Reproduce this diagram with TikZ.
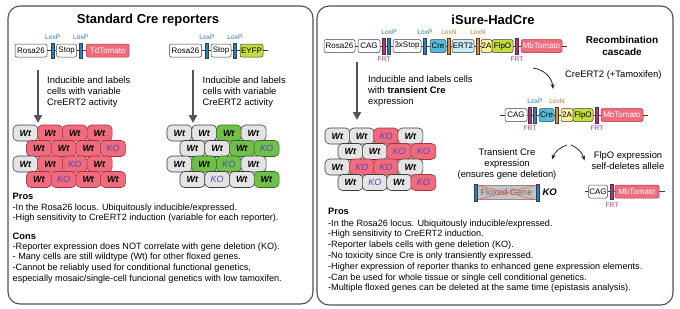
\documentclass[tikz,border=0pt]{standalone}
\usepackage{fontspec}
\setmainfont{Liberation Sans}
\usepackage{tikz}
\usetikzlibrary{arrows.meta,positioning,calc}
\definecolor{framegray}{RGB}{80,80,80}
\definecolor{boxline}{RGB}{60,60,60}
\definecolor{tomred}{RGB}{240,108,124}
\definecolor{tomline}{RGB}{170,50,65}
\definecolor{cellgray}{RGB}{228,228,228}
\definecolor{cellgreen}{RGB}{112,192,72}
\definecolor{greenline}{RGB}{45,110,30}
\definecolor{limeyfp}{RGB}{196,220,62}
\definecolor{crecyan}{RGB}{82,190,220}
\definecolor{ertcyan}{RGB}{204,236,242}
\definecolor{twoayel}{RGB}{250,240,150}
\definecolor{loxpblue}{RGB}{30,132,200}
\definecolor{loxnorange}{RGB}{228,140,50}
\definecolor{frtmag}{RGB}{200,40,130}
\definecolor{loxptext}{RGB}{40,112,180}
\definecolor{loxntext}{RGB}{206,120,40}
\definecolor{frttext}{RGB}{176,50,120}
\definecolor{kopurple}{RGB}{80,70,190}
\definecolor{arrowgray}{RGB}{85,85,85}
\definecolor{floxgray}{RGB}{196,196,196}

\newcommand{\wt}{\textbf{\textit{Wt}}}
\newcommand{\ko}{\textit{\textcolor{kopurple}{KO}}}

\begin{document}
\begin{tikzpicture}[
        x=1pt, y=1pt,
        pnl/.style={rectangle, draw=framegray, line width=1.1pt, rounded corners=12pt},
        ttl/.style={font=\fontsize{13}{15}\selectfont\bfseries, inner sep=0pt},
        gbox/.style={rectangle, draw=boxline, line width=0.5pt, rounded corners=2pt,
                     minimum height=13pt, inner sep=0pt, fill=white,
                     font=\fontsize{8}{9}\selectfont},
        gbar/.style={rectangle, draw=boxline, line width=0.4pt, minimum width=3.2pt,
                     minimum height=15.5pt, inner sep=0pt},
        loxpbar/.style={gbar, fill=loxpblue},
        loxnbar/.style={gbar, fill=loxnorange},
        frtbar/.style={gbar, fill=frtmag},
        sitelbl/.style={font=\fontsize{6.6}{7}\selectfont, inner sep=0pt},
        backbone/.style={draw=boxline, line width=0.5pt},
        cellbox/.style={rectangle, draw=boxline, line width=0.6pt, rounded corners=4.5pt,
                        minimum width=25pt, minimum height=16pt, inner sep=0pt,
                        font=\fontsize{9}{10}\selectfont},
        cellgy/.style={cellbox, fill=cellgray},
        cellred/.style={cellbox, fill=tomred, draw=tomline},
        cellgn/.style={cellbox, fill=cellgreen, draw=greenline},
        notetxt/.style={font=\fontsize{9.4}{10.8}\selectfont, align=left, inner sep=0pt},
        listtxt/.style={font=\fontsize{9.1}{10.8}\selectfont, align=left, inner sep=0pt},
        listhd/.style={font=\fontsize{9.3}{10.8}\selectfont\bfseries, inner sep=0pt},
        bigarrow/.style={-{Triangle[length=8pt,width=8pt]}, line width=2.6pt, arrowgray},
        curvy/.style={-{Stealth[length=5pt,width=4pt]}, line width=0.8pt, black!85}
    ]
    \useasboundingbox (0,0) rectangle (680,-308);

    %% ── Standard Cre reporters panel ────────────────────────────────────────
    \node[pnl, minimum width=305pt, minimum height=298pt] (leftpanel) at (160.5,-155) {};
    \node[ttl] (stdtitle) at (148,-20) {Standard Cre reporters};

    % TdTomato reporter allele
    \node[gbox, minimum width=32pt] (rosaA) at (31,-50.5) {Rosa26};
    \node[loxpbar] (lpA1) at (52.7,-50.5) {};
    \node[gbox, minimum width=20pt] (stopA) at (66.7,-50.5) {Stop};
    \node[loxpbar] (lpA2) at (80.7,-50.5) {};
    \node[gbox, minimum width=43pt, fill=tomred, draw=tomline, text=white] (tdtom) at (107.7,-50.5) {TdTomato};
    \draw[backbone] (rosaA) -- (lpA1) -- (stopA) -- (lpA2) -- (tdtom);
    \node[sitelbl, text=loxptext, above=3pt of lpA1] (lpA1t) {LoxP};
    \node[sitelbl, text=loxptext, above=3pt of lpA2] (lpA2t) {LoxP};

    % EYFP reporter allele
    \node[gbox, minimum width=32pt] (rosaB) at (185.5,-50.5) {Rosa26};
    \node[loxpbar] (lpB1) at (207,-50.5) {};
    \node[gbox, minimum width=20pt] (stopB) at (221,-50.5) {Stop};
    \node[loxpbar] (lpB2) at (235,-50.5) {};
    \node[gbox, minimum width=23pt, fill=limeyfp] (eyfp) at (251.5,-50.5) {EYFP};
    \coordinate (eyend) at (268,-50.5);
    \draw[backbone] (rosaB) -- (lpB1) -- (stopB) -- (lpB2) -- (eyfp) -- (eyend);
    \node[sitelbl, text=loxptext, above=3pt of lpB1] (lpB1t) {LoxP};
    \node[sitelbl, text=loxptext, above=3pt of lpB2] (lpB2t) {LoxP};

    % induction arrows
    \coordinate (arA0) at (38,-70);  \coordinate (arA1) at (38,-123);
    \coordinate (arB0) at (193,-70); \coordinate (arB1) at (193,-123);
    \draw[bigarrow] (arA0) -- (arA1);
    \draw[bigarrow] (arB0) -- (arB1);
    \node[notetxt, anchor=north west] (noteA) at (47,-76.4)
        {Inducible and labels\\cells with variable\\CreERT2 activity};
    \node[notetxt, anchor=north west] (noteB) at (202.5,-76.4)
        {Inducible and labels\\cells with variable\\CreERT2 activity};

    % TdTomato cells
    \foreach \sty/\lab [count=\i] in {cellgy/\wt, cellred/\wt, cellred/\wt, cellred/\wt}
        \node[\sty] (ra\i) at ({25.5+(\i-1)*24.7},-133) {\lab};
    \foreach \sty/\lab [count=\i] in {cellred/\wt, cellred/\wt, cellred/\wt, cellred/\ko}
        \node[\sty] (rb\i) at ({39+(\i-1)*24.7},-148.5) {\lab};
    \foreach \sty/\lab [count=\i] in {cellgy/\wt, cellred/\wt, cellred/\ko, cellred/\wt}
        \node[\sty] (rc\i) at ({25.5+(\i-1)*24.7},-164) {\lab};
    \foreach \sty/\lab [count=\i] in {cellred/\wt, cellred/\ko, cellred/\wt, cellred/\wt}
        \node[\sty] (rd\i) at ({39+(\i-1)*24.7},-179.5) {\lab};

    % EYFP cells
    \foreach \sty/\lab [count=\i] in {cellgy/\wt, cellgy/\wt, cellgn/\wt, cellgy/\wt}
        \node[\sty] (ga\i) at ({179.5+(\i-1)*24.7},-133) {\lab};
    \foreach \sty/\lab [count=\i] in {cellgy/\wt, cellgy/\wt, cellgn/\wt, cellgn/\ko}
        \node[\sty] (gb\i) at ({192.5+(\i-1)*24.7},-148.5) {\lab};
    \foreach \sty/\lab [count=\i] in {cellgy/\wt, cellgn/\wt, cellgn/\ko, cellgy/\wt}
        \node[\sty] (gc\i) at ({179.5+(\i-1)*24.7},-164) {\lab};
    \foreach \sty/\lab [count=\i] in {cellgy/\wt, cellgy/\ko, cellgy/\wt, cellgn/\wt}
        \node[\sty] (gd\i) at ({192.5+(\i-1)*24.7},-179.5) {\lab};

    % pros and cons
    \node[listhd, anchor=north west] (prosA) at (12.5,-192.6) {Pros};
    \node[listtxt, anchor=north west] (prosAtxt) at (12.5,-203.4)
        {-In the Rosa26 locus. Ubiquitously inducible/expressed.\\
         -High sensitivity to CreERT2 induction (variable for each reporter).};
    \node[listhd, anchor=north west] (consA) at (12.5,-232.6) {Cons};
    \node[listtxt, anchor=north west] (consAtxt) at (12.5,-242.4)
        {-Reporter expression does NOT correlate with gene deletion (KO).\\
         - Many cells are still wildtype (Wt) for other floxed genes.\\
         -Cannot be reliably used for conditional functional genetics,\\
         especially mosaic/single-cell funcional genetics with low tamoxifen.};

    %% ── iSure-HadCre panel ──────────────────────────────────────────────────
    \node[pnl, minimum width=356pt, minimum height=299pt] (rightpanel) at (495,-155.5) {};
    \node[ttl] (isuretitle) at (493,-20) {iSure-HadCre};

    % full iSure-HadCre allele
    \node[gbox, minimum width=31pt] (rosaC) at (339.5,-46) {Rosa26};
    \node[gbox, minimum width=22pt] (cagA) at (369,-46) {CAG};
    \node[frtbar] (frtA1) at (384,-46) {};
    \node[loxpbar] (lpC1) at (389,-46) {};
    \node[gbox, minimum width=28pt] (stop3) at (407,-46) {3xStop};
    \node[loxpbar] (lpC2) at (425,-46) {};
    \node[gbox, minimum width=16pt, fill=crecyan] (creA) at (438,-46) {Cre};
    \node[loxnbar] (lnC1) at (449,-46) {};
    \node[gbox, minimum width=22pt, fill=ertcyan] (ert2) at (463,-46) {ERT2};
    \node[loxnbar] (lnC2) at (478,-46) {};
    \node[gbox, minimum width=11pt, fill=twoayel] (twoA) at (486.5,-46) {2A};
    \node[gbox, minimum width=21pt, fill=limeyfp] (flpA) at (502.5,-46) {FlpO};
    \node[frtbar] (frtA2) at (517,-46) {};
    \node[gbox, minimum width=41pt, fill=tomred, draw=tomline, text=white] (mbtA) at (541.5,-46) {MbTomato};
    \coordinate (mbAend) at (567,-46);
    \draw[backbone] (rosaC) -- (cagA) -- (frtA1) -- (lpC1) -- (stop3) -- (lpC2) -- (creA)
        -- (lnC1) -- (ert2) -- (lnC2) -- (twoA);
    \draw[backbone] (flpA) -- (frtA2) -- (mbtA) -- (mbAend);
    \node[sitelbl, text=loxptext, above=3pt of lpC1] (lpC1t) {LoxP};
    \node[sitelbl, text=loxptext, above=3pt of lpC2] (lpC2t) {LoxP};
    \node[sitelbl, text=loxntext, above=3pt of lnC1] (lnC1t) {LoxN};
    \node[sitelbl, text=loxntext, above=3pt of lnC2] (lnC2t) {LoxN};
    \node[sitelbl, text=frttext, below=3pt of frtA1] (frtA1t) {FRT};
    \node[sitelbl, text=frttext, below=3pt of frtA2] (frtA2t) {FRT};

    \node[font=\fontsize{10}{12}\selectfont\bfseries, align=center] (cascade) at (622,-46)
        {Recombination\\cascade};

    % CreERT2 step
    \coordinate (tamA) at (533,-68);
    \coordinate (tamB) at (553,-89);
    \draw[curvy] (tamA) to[out=-8, in=95] (tamB);
    \node[notetxt, anchor=west] (tamtxt) at (565,-75) {CreERT2 (+Tamoxifen)};

    % recombined allele
    \coordinate (cagBstart) at (500,-115);
    \node[gbox, minimum width=22pt] (cagB) at (516,-115) {CAG};
    \node[frtbar] (frtB1) at (530,-115) {};
    \node[loxpbar] (lpD) at (535,-115) {};
    \node[gbox, minimum width=15pt, fill=crecyan] (creB) at (546.5,-115) {Cre};
    \node[loxnbar] (lnD) at (557,-115) {};
    \node[gbox, minimum width=12pt, fill=twoayel] (twoB) at (567,-115) {2A};
    \node[gbox, minimum width=20pt, fill=limeyfp] (flpB) at (583,-115) {FlpO};
    \node[frtbar] (frtB2) at (597,-115) {};
    \node[gbox, minimum width=42pt, fill=tomred, draw=tomline, text=white] (mbtB) at (622,-115) {MbTomato};
    \coordinate (mbBend) at (648,-115);
    \draw[backbone] (cagBstart) -- (cagB) -- (frtB1) -- (lpD) -- (creB) -- (lnD) -- (twoB);
    \draw[backbone] (flpB) -- (frtB2) -- (mbtB) -- (mbBend);
    \node[sitelbl, text=loxptext, above=3pt of lpD] (lpDt) {LoxP};
    \node[sitelbl, text=loxntext, above=3pt of lnD] (lnDt) {LoxN};
    \node[sitelbl, text=frttext, below=3pt of frtB1] (frtB1t) {FRT};
    \node[sitelbl, text=frttext, below=3pt of frtB2] (frtB2t) {FRT};

    % split into the two outcomes
    \coordinate (splitA) at (567,-145);
    \coordinate (splitB) at (571,-145);
    \coordinate (splitL) at (552,-159.5);
    \coordinate (splitR) at (584.5,-160.5);
    \draw[curvy] (splitA) to[bend right=25] (splitL);
    \draw[curvy] (splitB) to[bend left=25] (splitR);
    \node[notetxt, align=center, anchor=north] (transtxt) at (507,-148.4)
        {Transient Cre\\expression\\(ensures gene deletion)};
    \node[notetxt, align=center, anchor=north] (selftxt) at (628,-151.4)
        {FlpO expression\\self-deletes allele};

    % deleted floxed gene
    \node[rectangle, draw=black!45, fill=floxgray, minimum width=59pt, minimum height=14pt,
          inner sep=0pt, text=black!60, font=\fontsize{9}{10}\selectfont] (flox) at (506.5,-192.5) {Floxed Gene};
    \draw[red!65, line width=0.6pt] (flox.north west) -- (flox.south east)
        (flox.south west) -- (flox.north east);
    \node[loxpbar, minimum height=17pt] (floxL) at (476,-192.5) {};
    \node[loxpbar, minimum height=17pt] (floxR) at (537.5,-192.5) {};
    \node[font=\fontsize{9.5}{10}\selectfont\bfseries\itshape, inner sep=0pt, right=3pt of floxR] (koA) {KO};

    % self-deleted allele
    \coordinate (cagCstart) at (585,-191.5);
    \node[gbox, minimum width=19pt] (cagC) at (598,-191.5) {CAG};
    \node[frtbar] (frtC) at (612,-191.5) {};
    \node[gbox, minimum width=44pt, fill=tomred, draw=tomline, text=white] (mbtC) at (637,-191.5) {MbTomato};
    \coordinate (mbCend) at (665,-191.5);
    \draw[backbone] (cagCstart) -- (cagC) -- (frtC) -- (mbtC) -- (mbCend);
    \node[sitelbl, text=frttext, below=3pt of frtC] (frtCt) {FRT};

    % induction arrow and cells
    \coordinate (arC0) at (357,-62); \coordinate (arC1) at (357,-120);
    \draw[bigarrow] (arC0) -- (arC1);
    \node[notetxt, anchor=north west] (noteC) at (368,-75.4)
        {Inducible and labels cells\\with \textbf{transient Cre}\\expression};

    \foreach \sty/\lab [count=\i] in {cellgy/\wt, cellgy/\wt, cellred/\ko, cellgy/\wt}
        \node[\sty] (ka\i) at ({337.5+(\i-1)*24.3},-136) {\lab};
    \foreach \sty/\lab [count=\i] in {cellgy/\wt, cellgy/\wt, cellred/\ko, cellred/\ko}
        \node[\sty] (kb\i) at ({350.5+(\i-1)*24.3},-151.5) {\lab};
    \foreach \sty/\lab [count=\i] in {cellgy/\wt, cellred/\ko, cellred/\ko, cellgy/\wt}
        \node[\sty] (kc\i) at ({337.5+(\i-1)*24.3},-167) {\lab};
    \foreach \sty/\lab [count=\i] in {cellgy/\wt, cellgy/\ko, cellgy/\wt, cellred/\ko}
        \node[\sty] (kd\i) at ({350.5+(\i-1)*24.3},-182.5) {\lab};

    % pros
    \node[listhd, anchor=north west] (prosB) at (328,-207.6) {Pros};
    \node[listtxt, anchor=north west] (prosBtxt) at (328,-219.4)
        {-In the Rosa26 locus. Ubiquitously inducible/expressed.\\
         -High sensitivity to CreERT2 induction.\\
         -Reporter labels cells with gene deletion (KO).\\
         -No toxicity since Cre is only transiently expressed.\\
         -Higher expression of reporter thanks to enhanced gene expression elements.\\
         -Can be used for whole tissue or single cell conditional genetics.\\
         -Multiple floxed genes can be deleted at the same time (epistasis analysis).};

\end{tikzpicture}
\end{document}
